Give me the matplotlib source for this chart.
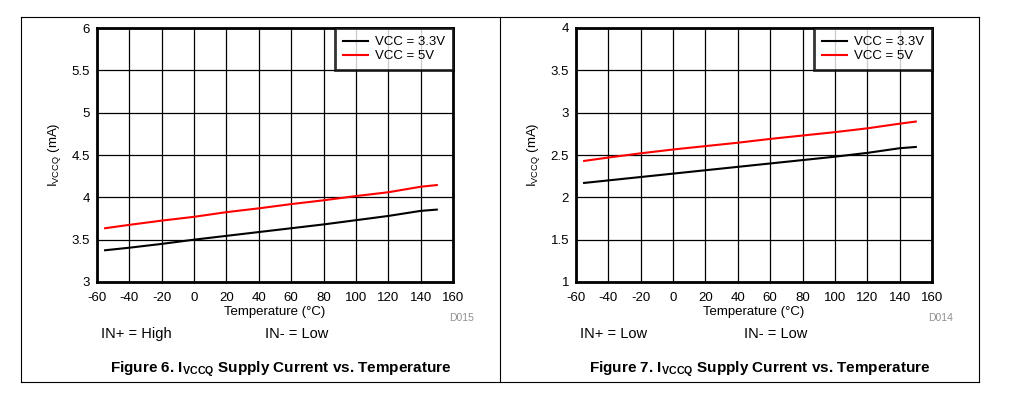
import matplotlib
matplotlib.use('Agg')
import matplotlib.pyplot as plt
from matplotlib.lines import Line2D

plt.rcParams['font.family'] = ['Liberation Sans', 'DejaVu Sans']
plt.rcParams['mathtext.fontset'] = 'custom'
plt.rcParams['mathtext.rm'] = 'Liberation Sans'
plt.rcParams['mathtext.bf'] = 'Liberation Sans:bold'
plt.rcParams['axes.unicode_minus'] = False

# data
temp = [-55, -40, -20, 0, 20, 40, 60, 80, 100, 120, 140, 150]
fig6_vcc33 = [3.375, 3.405, 3.45, 3.50, 3.545, 3.59, 3.635, 3.68, 3.73, 3.78, 3.84, 3.855]
fig6_vcc5 = [3.635, 3.675, 3.725, 3.77, 3.825, 3.87, 3.92, 3.965, 4.015, 4.06, 4.125, 4.145]
fig7_vcc33 = [2.17, 2.20, 2.24, 2.28, 2.32, 2.36, 2.40, 2.44, 2.48, 2.525, 2.58, 2.595]
fig7_vcc5 = [2.43, 2.47, 2.52, 2.565, 2.605, 2.645, 2.69, 2.73, 2.77, 2.815, 2.87, 2.895]

xticks = list(range(-60, 161, 20))
panels = [
    dict(left=97, y1=fig6_vcc33, y2=fig6_vcc5, ylim=(3, 6),
         yticks=[3, 3.5, 4, 4.5, 5, 5.5, 6],
         ytl=['3', '3.5', '4', '4.5', '5', '5.5', '6'],
         cond=('IN+ = High', 'IN- = Low'), code='D015', num=6),
    dict(left=576, y1=fig7_vcc33, y2=fig7_vcc5, ylim=(1, 4),
         yticks=[1, 1.5, 2, 2.5, 3, 3.5, 4],
         ytl=['1', '1.5', '2', '2.5', '3', '3.5', '4'],
         cond=('IN+ = Low', 'IN- = Low'), code='D014', num=7),
]

W, H = 1012, 399
fig = plt.figure(figsize=(W / 100, H / 100), dpi=100)


def fx(px):
    return px / W


def fy(py):
    return 1 - py / H


# table frame
for (x0, y0, x1, y1) in [(21, 17, 979, 17), (21, 382, 979, 382),
                         (21, 17, 21, 382), (500, 17, 500, 382), (979, 17, 979, 382)]:
    fig.add_artist(Line2D([fx(x0), fx(x1)], [fy(y0), fy(y1)], color='black', lw=0.8))

for p in panels:
    ax = fig.add_axes([fx(p['left']), fy(282), fx(356), 254 / H])
    ax.plot(temp, p['y1'], color='black', lw=1.5, label='VCC = 3.3V')
    ax.plot(temp, p['y2'], color='#ff0000', lw=1.5, label='VCC = 5V')
    ax.set_xlim(-60, 160)
    ax.set_ylim(*p['ylim'])
    ax.set_xticks(xticks)
    ax.set_yticks(p['yticks'])
    ax.set_yticklabels(p['ytl'])
    ax.grid(True, color='black', lw=0.9)
    ax.tick_params(length=0, labelsize=9.5)
    ax.tick_params(axis='x', pad=7)
    ax.tick_params(axis='y', pad=5)
    for s in ax.spines.values():
        s.set_linewidth(2)
    ax.set_xlabel('Temperature (°C)', fontsize=9.5, labelpad=2)
    ax.set_ylabel(r'I$_{\mathrm{VCCQ}}$ (mA)', fontsize=9.5, labelpad=6)
    leg = ax.legend(loc='upper right', fontsize=9.5, frameon=True, fancybox=False,
                    borderaxespad=0, handlelength=1.9, handletextpad=0.55,
                    labelspacing=0.15, borderpad=0.6)
    leg.get_frame().set_edgecolor('black')
    leg.get_frame().set_linewidth(2)
    left = p['left']
    fig.text(fx(left + 377), fy(318), p['code'], fontsize=7.5, color='#909090',
             ha='right', va='center')
    fig.text(fx(left + 4), fy(334), p['cond'][0], fontsize=10.5, ha='left', va='center')
    fig.text(fx(left + 168), fy(334), p['cond'][1], fontsize=10.5, ha='left', va='center')
    fig.text(fx(left + 13), fy(369),
             r'Figure %d. I$_{\mathbf{VCCQ}}$ Supply Current vs. Temperature' % p['num'],
             fontsize=11, fontweight='bold', ha='left', va='center')

fig.savefig('out.png', dpi=100)
